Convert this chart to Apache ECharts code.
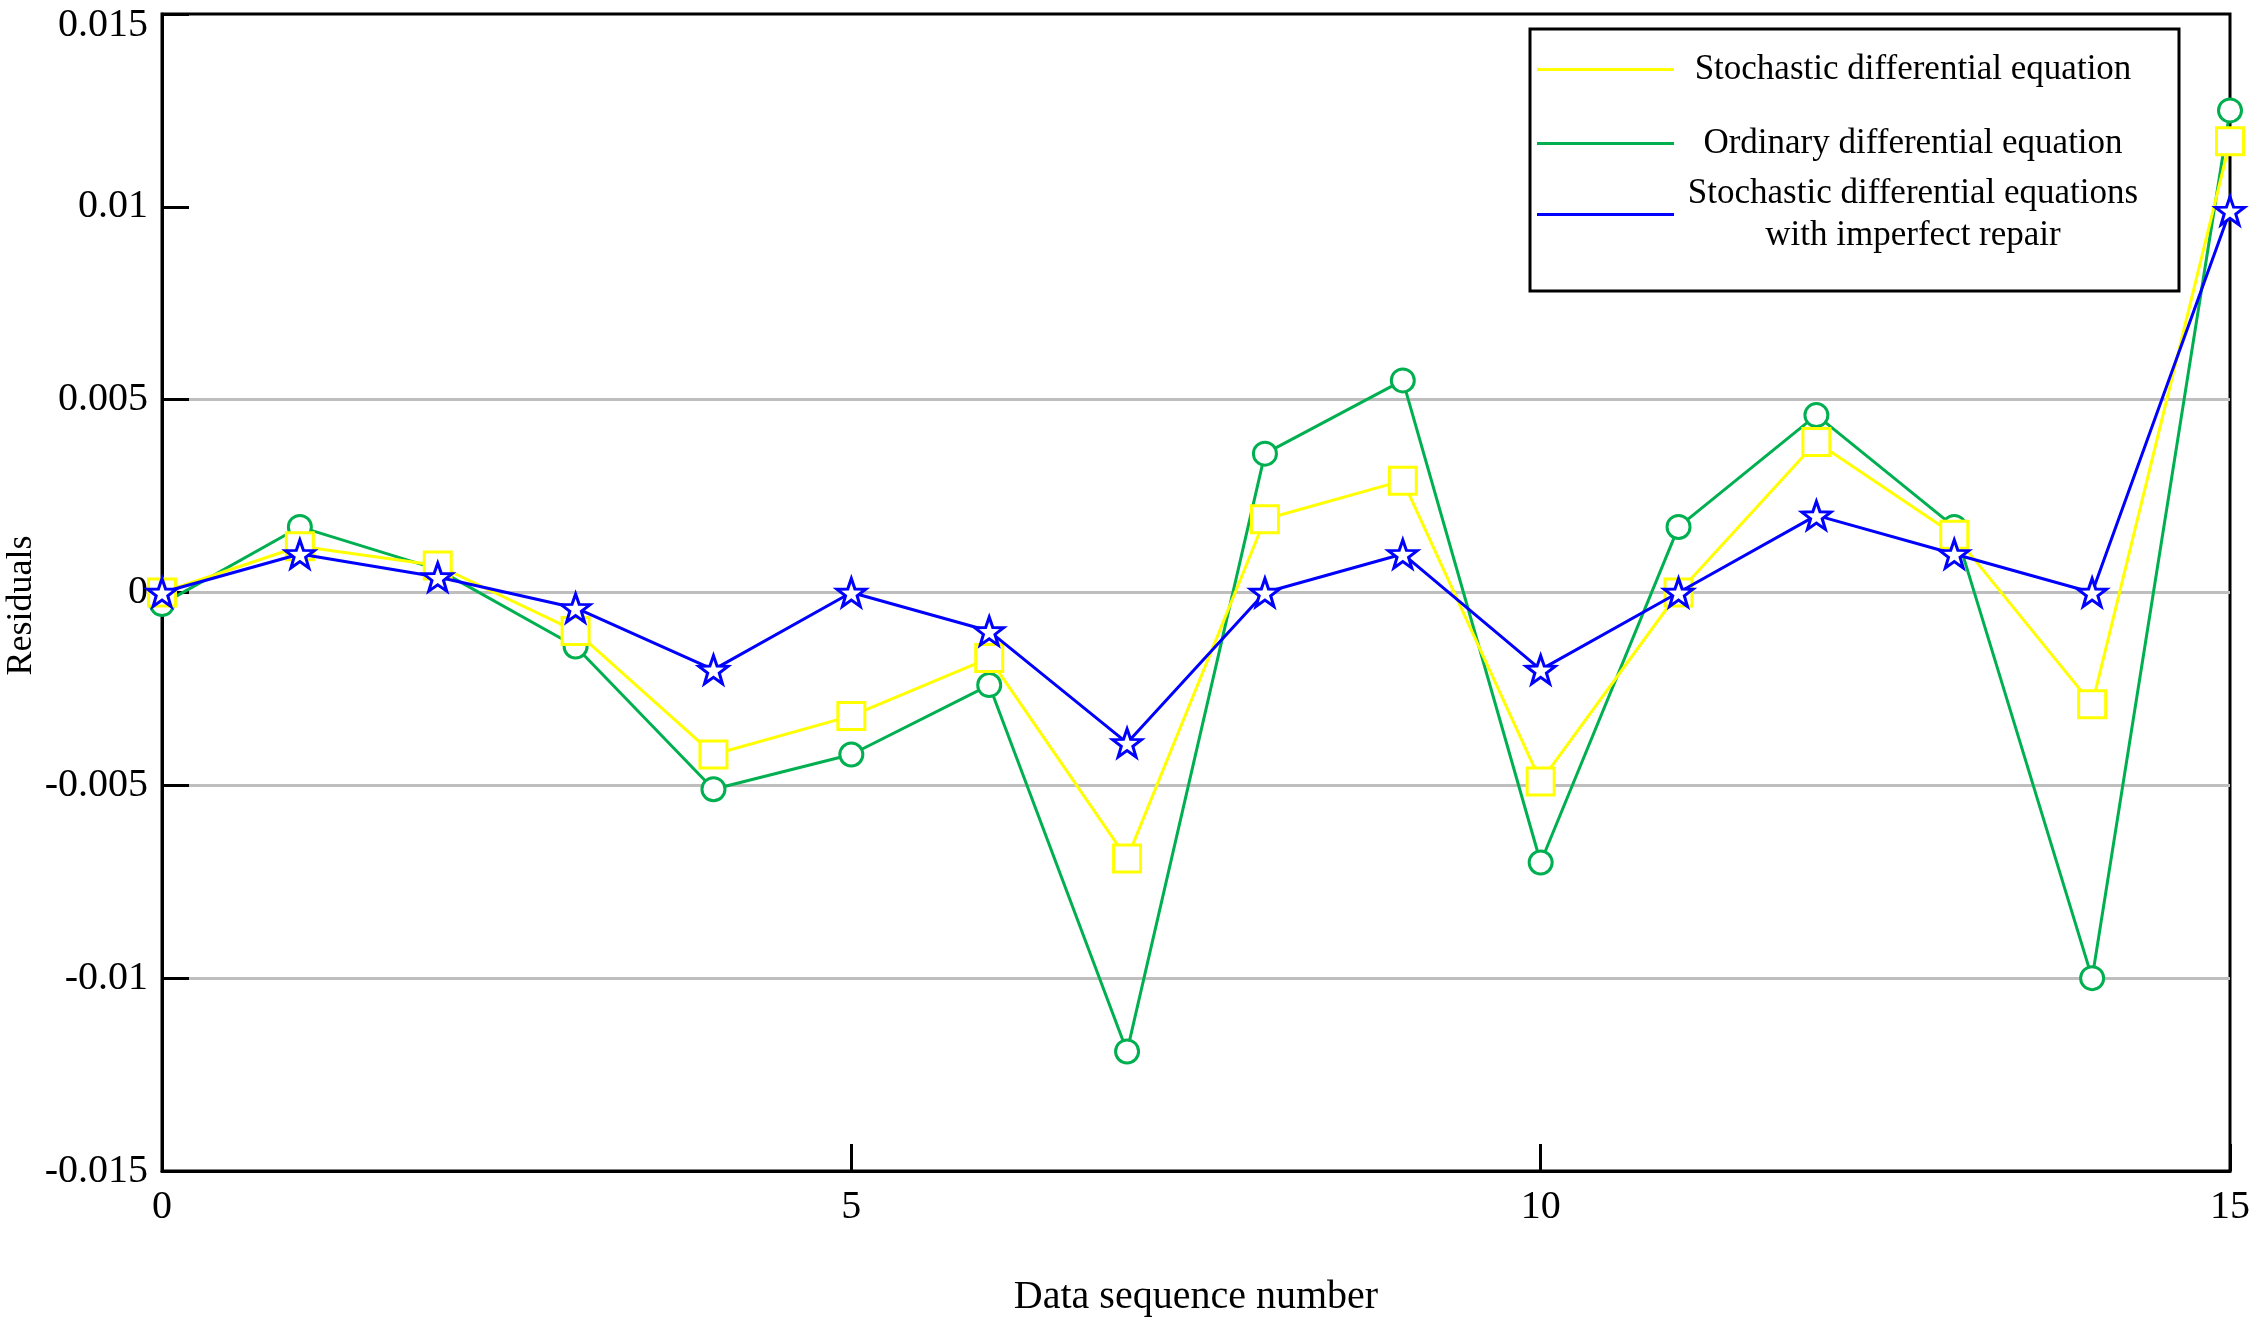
<!DOCTYPE html>
<html>
<head>
<meta charset="utf-8">
<style>
  html, body { margin: 0; padding: 0; background: #fff; }
  #chart { width: 2251px; height: 1317px; }
</style>
<script src="https://cdn.jsdelivr.net/npm/echarts@6/dist/echarts.min.js"></script>
</head>
<body>
<div id="chart"></div>
<script>
// ---- data ----
const seq = [0, 1, 2, 3, 4, 5, 6, 7, 8, 9, 10, 11, 12, 13, 14, 15];
const sdeResiduals = [0, 0.0012, 0.0007, -0.001, -0.0042, -0.0032, -0.0017, -0.0069, 0.0019, 0.0029, -0.0049, 0, 0.0039, 0.0015, -0.0029, 0.0117];
const odeResiduals = [-0.0003, 0.0017, 0.0006, -0.0014, -0.0051, -0.0042, -0.0024, -0.0119, 0.0036, 0.0055, -0.007, 0.0017, 0.0046, 0.0017, -0.01, 0.0125];
const sdeRepairResiduals = [0, 0.001, 0.0004, -0.0004, -0.002, 0, -0.001, -0.0039, 0, 0.001, -0.002, 0, 0.002, 0.001, 0, 0.0099];
const seriesNames = [
  'Stochastic differential equation',
  'Ordinary differential equation',
  'Stochastic differential equations\nwith imperfect repair'
];
const xAxisName = 'Data sequence number';
const yAxisName = 'Residuals';

// ---- styles ----
const FONT = 'Liberation Serif';
const YELLOW = '#FFFF00';
const GREEN = '#00B050';
const BLUE = '#0000FF';
const STAR = 'path://M50 0 L61.8 33.8 L97.6 34.5 L69 56.2 L79.4 90.5 L50 70 L20.6 90.5 L31 56.2 L2.4 34.5 L38.2 33.8 Z';

function pairs(vals) { return seq.map((x, i) => [x, vals[i]]); }

function makeLegend(name, color, top) {
  return {
    data: [name],
    left: 1537,
    top: top,
    orient: 'vertical',
    padding: 0,
    icon: 'rect',
    itemWidth: 137,
    itemHeight: 3,
    itemGap: 0,
    selectedMode: false,
    itemStyle: { color: color, borderWidth: 0 },
    itemTextGap: 34,
    formatter: n => n.split('\n').map(s => '{t|' + s + '}').join('\n'),
    textStyle: {
      rich: {
        t: { width: 468, align: 'center', lineHeight: 42, fontSize: 35, fontFamily: FONT, color: '#000' }
      }
    },
    z: 10
  };
}

const chart = echarts.init(document.getElementById('chart'), null, { renderer: 'canvas' });
chart.setOption({
  backgroundColor: '#fff',
  animation: false,
  grid: {
    left: 162, right: 21, top: 14, bottom: 146,
    outerBoundsMode: 'none',
    containLabel: false,
    show: true, borderColor: '#000', borderWidth: 3, backgroundColor: 'transparent'
  },
  graphic: [{
    type: 'rect',
    shape: { x: 1530, y: 29, width: 649, height: 262 },
    style: { fill: '#fff', stroke: '#000', lineWidth: 3 },
    z: 5
  }],
  legend: [
    makeLegend(seriesNames[0], YELLOW, 52),
    makeLegend(seriesNames[1], GREEN, 126),
    makeLegend(seriesNames[2], BLUE, 176)
  ],
  xAxis: {
    type: 'value',
    min: 0, max: 15, interval: 5,
    name: xAxisName,
    nameLocation: 'middle',
    nameGap: 106,
    nameMoveOverlap: false,
    nameTextStyle: { fontFamily: FONT, fontSize: 40, color: '#000' },
    axisLine: { show: true, onZero: false, lineStyle: { color: '#000', width: 3 } },
    axisTick: { show: true, inside: true, length: 27, lineStyle: { color: '#000', width: 3 } },
    axisLabel: { fontFamily: FONT, fontSize: 40, color: '#000', margin: 16 },
    splitLine: { show: false }
  },
  yAxis: {
    type: 'value',
    min: -0.015, max: 0.015, interval: 0.005,
    name: yAxisName,
    nameLocation: 'middle',
    nameGap: 122,
    nameMoveOverlap: false,
    nameTextStyle: { fontFamily: FONT, fontSize: 36, color: '#000', padding: [0, 26, 0, 0] },
    axisLine: { show: true, lineStyle: { color: '#000', width: 3 } },
    axisTick: { show: true, inside: true, length: 27, lineStyle: { color: '#000', width: 3 } },
    axisLabel: {
      fontFamily: FONT, fontSize: 40, color: '#000', margin: 14,
      formatter: v => {
        const s = String(Number(v.toFixed(3)));
        return v > 0.0145 ? '{top|' + s + '}' : s;
      },
      rich: {
        top: { fontFamily: FONT, fontSize: 40, color: '#000', padding: [22, 0, 0, 0] }
      }
    },
    splitLine: {
      show: true,
      lineStyle: {
        width: 3,
        color: ['rgba(0,0,0,0)', '#BEBEBE', '#BEBEBE', '#BEBEBE', '#BEBEBE', 'rgba(0,0,0,0)', 'rgba(0,0,0,0)']
      }
    }
  },
  series: [
    {
      name: seriesNames[1],
      type: 'line',
      data: pairs(odeResiduals),
      symbol: 'circle',
      symbolSize: 23,
      color: GREEN,
      lineStyle: { color: GREEN, width: 3 },
      itemStyle: { color: '#fff', borderColor: GREEN, borderWidth: 3 },
      clip: false,
      z: 2
    },
    {
      name: seriesNames[0],
      type: 'line',
      data: pairs(sdeResiduals),
      symbol: 'rect',
      symbolSize: 27,
      color: YELLOW,
      lineStyle: { color: YELLOW, width: 3 },
      itemStyle: { color: '#fff', borderColor: YELLOW, borderWidth: 3 },
      clip: false,
      z: 3
    },
    {
      name: seriesNames[2],
      type: 'line',
      data: pairs(sdeRepairResiduals),
      symbol: STAR,
      symbolSize: [29, 28],
      color: BLUE,
      lineStyle: { color: BLUE, width: 3 },
      itemStyle: { color: '#fff', borderColor: BLUE, borderWidth: 3 },
      clip: false,
      z: 4
    }
  ]
});
</script>
</body>
</html>
